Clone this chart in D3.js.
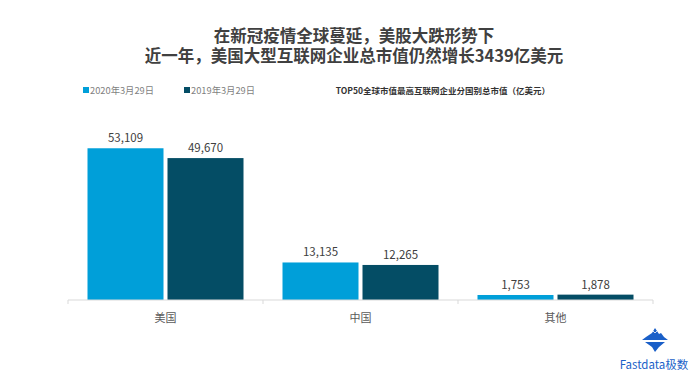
<!DOCTYPE html>
<html>
<head>
<meta charset="utf-8">
<script src="https://cdn.jsdelivr.net/npm/d3@7"></script>
<style>
html,body{margin:0;padding:0;background:#fff;}
svg{display:block;font-family:"Noto Sans CJK SC","Noto Sans",sans-serif;}
</style>
</head>
<body>
<svg id="chart" width="700" height="383"></svg>
<script>
const titleLines = ["在新冠疫情全球蔓延，美股大跌形势下", "近一年，美国大型互联网企业总市值仍然增长3439亿美元"];
const subTitle = "TOP50全球市值最高互联网企业分国别总市值（亿美元）";
const categories = ["美国", "中国", "其他"];
const seriesNames = ["2020年3月29日", "2019年3月29日"];
const values2020 = [53109, 13135, 1753];
const values2019 = [49670, 12265, 1878];
const seriesColors = ["#009fd9", "#044d65"];
const brand = "Fastdata极数";

const svg = d3.select("#chart");

// Title (one text, two lines)
const title = svg.append("text")
  .attr("text-anchor", "middle")
  .attr("font-size", 16.5).attr("font-weight", "bold").attr("fill", "#404040");
title.selectAll("tspan").data(titleLines).join("tspan")
  .attr("x", 354).attr("y", (d, i) => 41.5 + i * 20)
  .text(d => d);

// Legend
const legendX = [83, 184];
const lg = svg.append("g").selectAll("g").data(seriesNames).join("g")
  .attr("transform", (d, i) => `translate(${legendX[i]},0)`);
lg.append("rect").attr("x", 0).attr("y", 87).attr("width", 6).attr("height", 6)
  .attr("fill", (d, i) => seriesColors[i]);
lg.append("text").attr("x", 7).attr("y", 90).attr("dominant-baseline", "central")
  .attr("font-size", 9.3).attr("fill", "#7f7f7f").text(d => d);

svg.append("text").attr("x", 550).attr("y", 90).attr("text-anchor", "end")
  .attr("dominant-baseline", "central")
  .attr("font-size", 8.5).attr("font-weight", "bold").attr("fill", "#333")
  .text(subTitle);

// Scales
const x0 = d3.scaleBand().domain(categories).range([68, 653]).paddingInner(0).paddingOuter(0);
const x1 = d3.scaleBand().domain(seriesNames).range([19.5, x0.bandwidth() - 19.5]).paddingInner(0.05);
const y = d3.scaleLinear().domain([0, 56000]).range([300, 140]);

const data = categories.map((c, i) => ({cat: c, vals: [values2020[i], values2019[i]]}));

const groups = svg.append("g").selectAll("g").data(data).join("g")
  .attr("transform", d => `translate(${x0(d.cat)},0)`);

groups.selectAll("rect").data(d => d.vals.map((v, i) => ({v, s: seriesNames[i], i}))).join("rect")
  .attr("x", d => x1(d.s)).attr("width", x1.bandwidth())
  .attr("y", d => y(d.v)).attr("height", d => y(0) - y(d.v))
  .attr("fill", d => seriesColors[d.i]);

groups.selectAll("text.val").data(d => d.vals.map((v, i) => ({v, s: seriesNames[i], i}))).join("text")
  .attr("class", "val")
  .attr("x", d => x1(d.s) + x1.bandwidth() / 2).attr("y", d => y(d.v) - 11)
  .attr("text-anchor", "middle").attr("dominant-baseline", "central")
  .attr("font-size", 11.5).attr("fill", "#404040")
  .text(d => d3.format(",")(d.v));

// Axis
const axisG = svg.append("g").attr("transform", `translate(0,${y(0)})`);
axisG.append("line").attr("x1", 68).attr("x2", 653).attr("y1", 0).attr("y2", 0)
  .attr("stroke", "#d9d9d9").attr("stroke-width", 1);
const tickPos = categories.map(c => x0(c)).concat([x0.range()[1]]);
axisG.selectAll("line.tick").data(tickPos).join("line").attr("class", "tick")
  .attr("x1", d => d).attr("x2", d => d).attr("y1", 0).attr("y2", 4)
  .attr("stroke", "#d9d9d9");
axisG.selectAll("text").data(categories).join("text")
  .attr("x", d => x0(d) + x0.bandwidth() / 2).attr("y", 17)
  .attr("text-anchor", "middle").attr("dominant-baseline", "central")
  .attr("font-size", 11).attr("fill", "#595959").text(d => d);

// Logo
const logo = svg.append("g").attr("transform", "translate(655,340)");
logo.append("path")
  .attr("d", "M0,-12 L4,-6 L6,-7 L9,-3 L13,0 L-13,0 L-9,-3 L-6,-5 L-3,-7 Z")
  .attr("fill", "#1a5fc8");
logo.append("path")
  .attr("d", "M-10,2 L10,2 L4,7 L0,12 L-3,7 Z")
  .attr("fill", "#1a5fc8");
logo.append("path").attr("d", "M-2,-9 L0,-7 L2,-9").attr("stroke", "#fff").attr("fill", "none").attr("stroke-width", 0.8);
svg.append("text").attr("x", 654).attr("y", 364).attr("text-anchor", "middle")
  .attr("dominant-baseline", "central").attr("font-size", 11.5).attr("fill", "#1a5fc8")
  .text(brand);
</script>
</body>
</html>
